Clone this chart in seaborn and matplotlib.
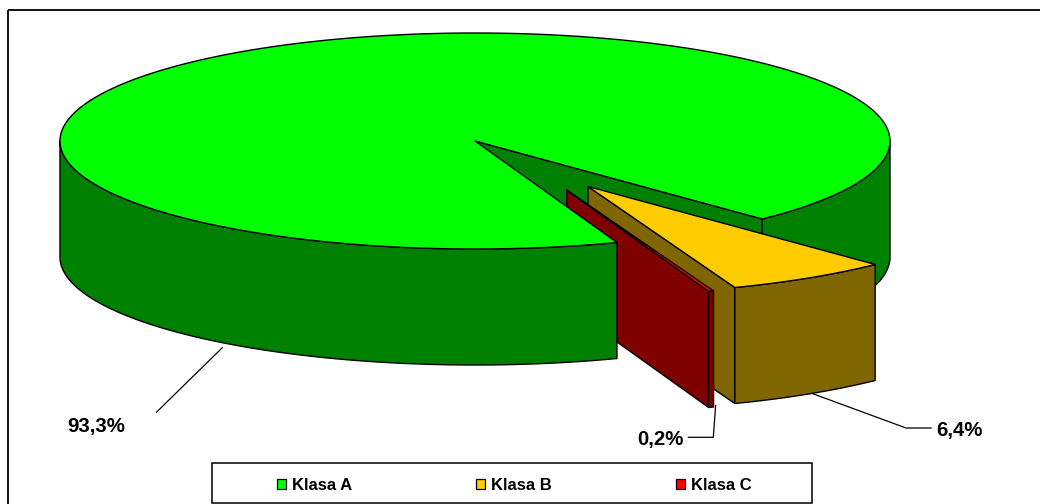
import numpy as np
import matplotlib
matplotlib.use("Agg")
import matplotlib.pyplot as plt
from matplotlib.patches import Polygon, Patch, Rectangle
import seaborn as sns

# Share of each class, in percent
classes = ["Klasa A", "Klasa B", "Klasa C"]
shares = [93.3, 6.4, 0.2]
slice_colors = ["#00FF00", "#FFCC00", "#FF0000"]

sns.set_theme(style="white")
plt.rcParams["font.family"] = ["Liberation Sans", "DejaVu Sans"]

# Projection of the pie disc, in pixels
CX, CY = 475.0, 141.0
RX, RY = 415.0, 108.0
DEPTH = 116.0
START = 70.0  # clockwise from the +x axis, first slice begins here
OFFSETS = {"Klasa A": (0.0, 0.0), "Klasa B": (113.0, 45.5), "Klasa C": (91.7, 49.0)}

fig = plt.figure(figsize=(10.4, 5.04), dpi=100, facecolor="white")
ax = fig.add_axes([0, 0, 1, 1])
ax.set_xlim(0, 1040)
ax.set_ylim(504, 0)
ax.axis("off")

fractions = np.array(shares) / np.sum(shares) * 360.0
ends = START + np.cumsum(fractions)
starts = ends - fractions
span = {c: (s, e) for c, s, e in zip(classes, starts, ends)}
palette = dict(zip(classes, sns.color_palette(slice_colors)))
shade = {c: tuple(0.5 * v for v in palette[c]) for c in classes}
EDGE = dict(edgecolor="black", linewidth=1.0, joinstyle="round")


def rim_xy(name, t0, t1, drop=0.0):
    dx, dy = OFFSETS[name]
    t = np.radians(np.linspace(t0, t1, max(2, int(abs(t1 - t0) * 3))))
    return np.column_stack([CX + dx + RX * np.cos(t), CY + dy + drop + RY * np.sin(t)])


def apex(name, drop=0.0):
    dx, dy = OFFSETS[name]
    return np.array([[CX + dx, CY + dy + drop]])


def add_top(name):
    t0, t1 = span[name]
    pts = np.vstack([apex(name), rim_xy(name, t0, t1)])
    ax.add_patch(Polygon(pts, closed=True, facecolor=palette[name], **EDGE))


def add_side(name, t0, t1):
    pts = np.vstack([rim_xy(name, t0, t1), rim_xy(name, t1, t0, DEPTH)])
    ax.add_patch(Polygon(pts, closed=True, facecolor=shade[name], **EDGE))


def add_cut(name, t):
    pts = np.vstack([apex(name), rim_xy(name, t, t), rim_xy(name, t, t, DEPTH)[::-1], apex(name, DEPTH)])
    ax.add_patch(Polygon(pts, closed=True, facecolor=shade[name], **EDGE))


# Painted back to front so nearer faces hide those behind them
a0, a1 = span["Klasa A"]
add_cut("Klasa A", a1 - 360.0)
add_side("Klasa A", 0.0, a1 - 360.0)

b0, b1 = span["Klasa B"]
b0, b1 = b0 - 360.0, b1 - 360.0
span["Klasa B"] = (b0, b1)
add_cut("Klasa B", b1)
add_side("Klasa B", b0, b1)
add_top("Klasa B")

c0, c1 = span["Klasa C"]
c0, c1 = c0 - 360.0, c1 - 360.0
span["Klasa C"] = (c0, c1)
add_cut("Klasa C", c1)
add_side("Klasa C", c0, c1)
add_top("Klasa C")

add_side("Klasa A", a0, 180.0)
add_top("Klasa A")

# Leader lines and value labels
leaders = {
    "Klasa A": ([222.7, 156.0], [347.3, 412.7]),
    "Klasa B": ([811.7, 906.0, 931.7], [393.3, 428.0, 428.0]),
    "Klasa C": ([715.7, 713.3, 687.7], [405.0, 437.3, 437.3]),
}
label_pos = {"Klasa A": (96.0, 426.5), "Klasa B": (959.0, 430.5), "Klasa C": (660.0, 439.5)}
for name, share in zip(classes, shares):
    xs, ys = leaders[name]
    ax.plot(xs, ys, color="black", linewidth=0.9, solid_capstyle="butt")
    x, y = label_pos[name]
    ax.text(x, y, f"{share:.1f}%".replace(".", ","), ha="center", va="center",
            fontsize=14.7, fontweight="bold", color="black")

# Chart frame runs past the right and bottom of the canvas
ax.add_patch(Rectangle((7.5, 10), 1100, 600, fill=False, edgecolor="black", linewidth=1.3))

# Legend box with one swatch per class
ax.add_patch(Rectangle((211.7, 463.3), 600.6, 40.0, facecolor="white", edgecolor="black",
                       linewidth=1.1, zorder=4))
handles = [Patch(facecolor=palette[c], edgecolor="black", linewidth=0.9, label=c) for c in classes]
leg = ax.legend(handles=handles, ncol=3, frameon=False, loc="center",
                bbox_to_anchor=(514.5, 485.0), bbox_transform=ax.transData,
                prop={"size": 12, "weight": "bold"}, labelcolor="black",
                handlelength=0.54, handleheight=0.54, handletextpad=0.36,
                columnspacing=7.44, borderpad=0, borderaxespad=0)
leg.set_zorder(5)

fig.savefig("out.png", dpi=100, facecolor="white")
